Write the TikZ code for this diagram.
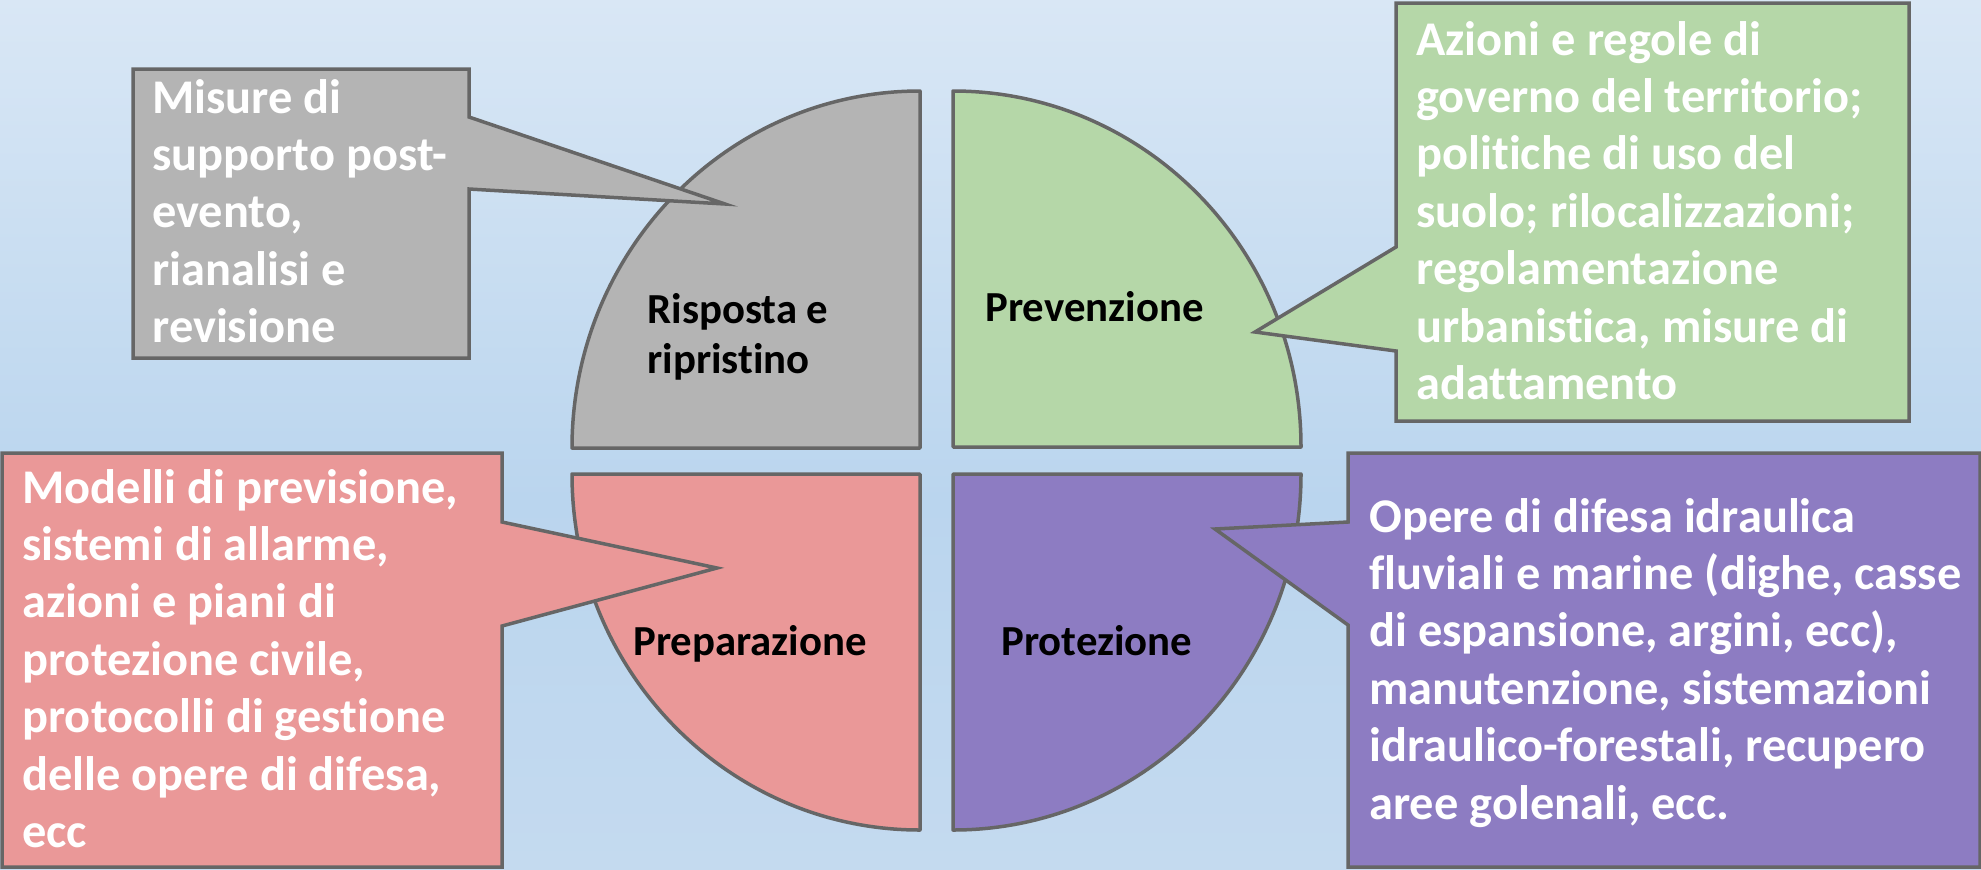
\documentclass[tikz,border=0pt]{standalone}
\usepackage{fontspec}
\setmainfont{Carlito}[Ligatures={NoCommon,NoContextual,NoRare}]
\definecolor{bgtop}{HTML}{D9E7F5}
\definecolor{bgmid}{HTML}{BAD5EE}
\definecolor{bgbot}{HTML}{C4DAEF}
\definecolor{edge}{HTML}{666666}
\definecolor{cgray}{HTML}{B4B4B4}
\definecolor{cgreen}{HTML}{B5D7A8}
\definecolor{cpink}{HTML}{EA9898}
\definecolor{cpurple}{HTML}{8D7CC2}
\tikzset{
  part/.style={draw=edge, line width=1.75pt, line join=round},
  callout/.style={draw=edge, line width=1.75pt, line join=miter},
  boxtext/.style={anchor=base west, inner sep=0pt, text=white,
    font=\fontsize{24.2pt}{28.7pt}\selectfont\bfseries},
  lbltext/.style={anchor=base west, inner sep=0pt, text=black,
    font=\fontsize{21.4pt}{25pt}\selectfont\bfseries}
}
\newcommand{\tlines}[1]{\vtop{\lineskiplimit=-100pt\relax #1}}
\begin{document}
\begin{tikzpicture}[x=0.5pt,y=-0.5pt]
\useasboundingbox (0,0) rectangle (1981,869);
\path[shade, top color=bgtop, bottom color=bgmid] (0,0) rectangle (1981,500);
\path[shade, top color=bgmid, bottom color=bgbot] (0,499) rectangle (1981,869);

% quadrants
\filldraw[part, fill=cgray] (920,448) -- (572,448) arc[start angle=180, end angle=270, x radius=348, y radius=357] -- cycle;
\filldraw[part, fill=cgreen] (953,447) -- (953,91) arc[start angle=270, end angle=360, x radius=348, y radius=356] -- cycle;
\filldraw[part, fill=cpink] (920,474) -- (572,474) arc[start angle=180, end angle=90, x radius=348, y radius=356] -- cycle;
\filldraw[part, fill=cpurple] (953,474) -- (1301,474) arc[start angle=0, end angle=90, x radius=348, y radius=356] -- cycle;

\node[lbltext] (lrisp) at (647,323) {\tlines{\hbox{Risposta e}\hbox{ripristino}}};
\node[lbltext] (lprev) at (985,321) {Prevenzione};
\node[lbltext] (lprep) at (633,655) {Preparazione};
\node[lbltext] (lprot) at (1001,655) {Protezione};

% callouts
\filldraw[callout, fill=cgray] (133,69) -- (469,69) -- (469,117) -- (725,204) -- (469,189) -- (469,358) -- (133,358) -- cycle;
\filldraw[callout, fill=cgreen] (1396,3) -- (1909,3) -- (1909,421) -- (1396,421) -- (1396,351) -- (1255,332) -- (1396,247) -- cycle;
\filldraw[callout, fill=cpink] (2,453) -- (502,453) -- (502,522) -- (717,568) -- (502,626) -- (502,867) -- (2,867) -- cycle;
\filldraw[callout, fill=cpurple] (1348,453) -- (1980,453) -- (1980,867) -- (1348,867) -- (1348,625) -- (1215,529) -- (1348,522) -- cycle;

\node[boxtext] (tgray) at (152,113) {\tlines{\hbox{Misure di}\hbox{supporto post-}\hbox{evento,}\hbox{rianalisi e}\hbox{revisione}}};
\node[boxtext] (tgreen) at (1416,55) {\tlines{\hbox{Azioni e regole di}\hbox{governo del territorio;}\hbox{politiche di uso del}\hbox{suolo; rilocalizzazioni;}\hbox{regolamentazione}\hbox{urbanistica, misure di}\hbox{adattamento}}};
\node[boxtext] (tpink) at (22,503) {\tlines{\hbox{Modelli di previsione,}\hbox{sistemi di allarme,}\hbox{azioni e piani di}\hbox{protezione civile,}\hbox{protocolli di gestione}\hbox{delle opere di difesa,}\hbox{ecc}}};
\node[boxtext] (tpurple) at (1369,532) {\tlines{\hbox{Opere di difesa idraulica}\hbox{fluviali e marine (dighe, casse}\hbox{di espansione, argini, ecc),}\hbox{manutenzione, sistemazioni}\hbox{idraulico-forestali, recupero}\hbox{aree golenali, ecc.}}};
\end{tikzpicture}
\end{document}
